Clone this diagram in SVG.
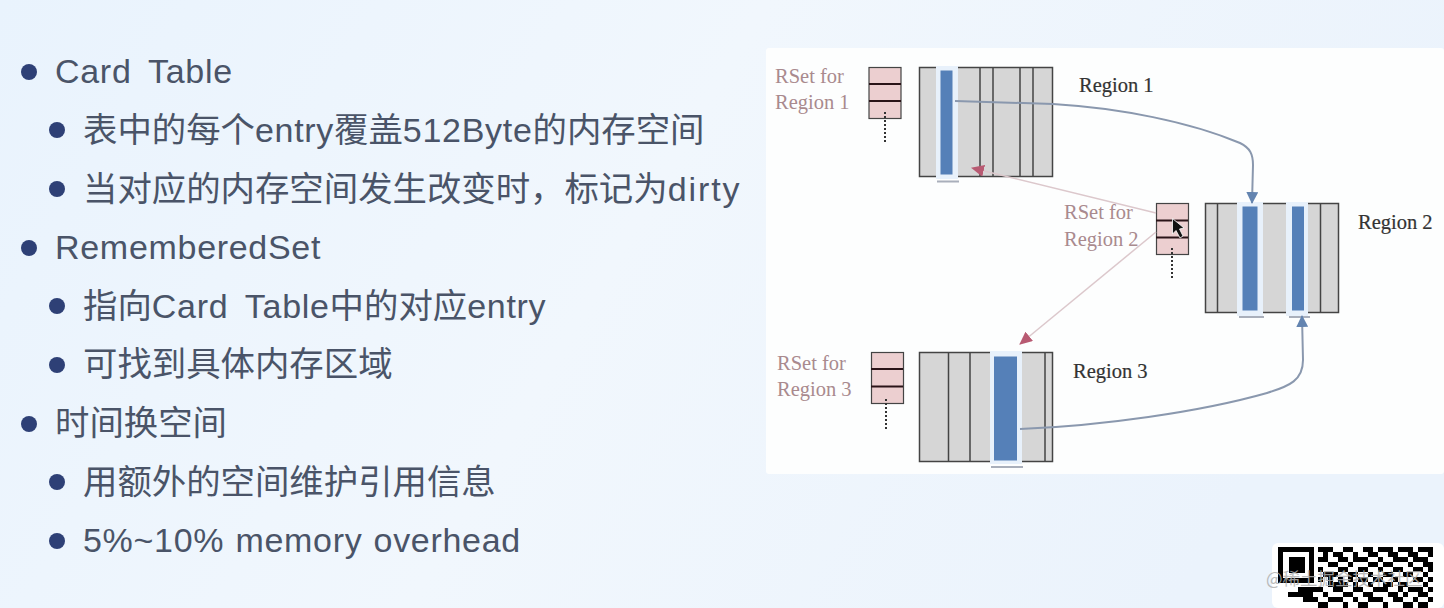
<svg xmlns="http://www.w3.org/2000/svg" width="1444" height="608" viewBox="0 0 1444 608">
<style>
.t{font-family:"Liberation Sans","Noto Sans CJK SC",sans-serif;fill:#4a5468;font-size:34.400px}
.la{letter-spacing:0.700px;word-spacing:2px;font-size:34px}
.w7{word-spacing:7px}
.lo{word-spacing:1px}
.dy{letter-spacing:1.900px}
.d{fill:#2e4076}
.s{font-family:"Liberation Serif",serif;font-size:20.500px;fill:#a98a8e}
.r{font-family:"Liberation Serif",serif;font-size:20.500px;fill:#333;stroke:#333;stroke-width:0.200px}
.g{fill:#d6d6d6;stroke:#444;stroke-width:1.500}
.v{stroke:#444;stroke-width:1.500}
.p{fill:#eccfd0;stroke:#444;stroke-width:1.200}
.b{stroke:#2a1418;stroke-width:1.800}
.o{stroke:#333;stroke-width:2;stroke-dasharray:2 2}
.h{fill:#e8f1fb}
.c{fill:#5580b8}
.u{stroke:#a9afbb;stroke-width:2}
.a{fill:none;stroke:#8a98ae;stroke-width:2}
.m{fill:none;stroke:#dcc8cc;stroke-width:1.500}
</style>
<defs>
<linearGradient id="bg" x1="0" y1="0" x2="1" y2="0.25"><stop offset="0" stop-color="#e9f3fd"/><stop offset="0.5" stop-color="#f1f7fd"/><stop offset="1" stop-color="#ebf3fc"/></linearGradient>
<marker id="ab" markerWidth="12" markerHeight="12" refX="11" refY="6" orient="auto" markerUnits="userSpaceOnUse"><path d="M0 0L12 6L0 12Z" fill="#6384b0"/></marker>
<marker id="ar" markerWidth="14" markerHeight="12" refX="12" refY="6" orient="auto" markerUnits="userSpaceOnUse"><path d="M0 0L13 6L0 12Z" fill="#b85a72"/></marker>
</defs>
<rect width="1444" height="608" fill="url(#bg)"/>
<rect x="766" y="48" width="678" height="426" rx="3" fill="#fdfefe"/>

<g id="bullets">
<circle class="d" cx="29" cy="72" r="8"/><text class="t la w7" x="55" y="83">Card Table</text>
<circle class="d" cx="57" cy="130" r="8"/><text class="t" x="83" y="142">表中的每个<tspan class="la">entry</tspan>覆盖<tspan class="la">512Byte</tspan>的内存空间</text>
<circle class="d" cx="57" cy="189" r="8"/><text class="t" x="83" y="201">当对应的内存空间发生改变时，标记为<tspan class="la dy">dirty</tspan></text>
<circle class="d" cx="29" cy="248" r="8"/><text class="t la" x="55" y="259">RememberedSet</text>
<circle class="d" cx="57" cy="306" r="8"/><text class="t" x="83" y="318">指向<tspan class="la w7">Card Table</tspan>中的对应<tspan class="la">entry</tspan></text>
<circle class="d" cx="57" cy="365" r="8"/><text class="t" x="83" y="376">可找到具体内存区域</text>
<circle class="d" cx="29" cy="424" r="8"/><text class="t" x="55" y="435">时间换空间</text>
<circle class="d" cx="57" cy="482" r="8"/><text class="t" x="83" y="494">用额外的空间维护引用信息</text>
<circle class="d" cx="57" cy="541" r="8"/><text class="t la lo" x="83" y="552">5%~10% memory overhead</text>
</g>

<g id="rset1">
<text class="s" x="775" y="83">RSet for</text><text class="s" x="775" y="109">Region 1</text>
<rect class="p" x="869" y="67.500" width="32" height="51"/>
<path class="b" d="M869 84H901M869 101H901"/><path class="o" d="M885 112V143"/>
</g>
<g id="region1">
<rect class="g" x="919.500" y="67.500" width="133" height="109"/>
<path class="v" d="M980 67V177M993 67V177M1020 67V177M1033 67V177"/>
<rect class="h" x="936" y="66" width="22" height="113"/>
<rect class="c" x="940.500" y="70.500" width="12" height="104"/>
<path class="u" d="M937 181.500H959"/>
<text class="r" x="1079" y="92">Region 1</text>
</g>

<g id="rset2">
<text class="s" x="1064" y="219">RSet for</text><text class="s" x="1064" y="246">Region 2</text>
<rect class="p" x="1156.500" y="203.500" width="32" height="51"/>
<path class="b" d="M1156 220.500H1188M1156 237.500H1188"/><path class="o" d="M1172 248V278"/>
<path d="M1172.500 218.500L1172.500 234L1176 230.500L1180 238L1183 236L1179.500 229L1184 228Z" fill="#111" stroke="#fff" stroke-width="0.800"/>
</g>
<g id="region2">
<rect class="g" x="1205.500" y="203.500" width="133" height="109"/>
<path class="v" d="M1217.500 203V313M1320.500 203V313"/>
<rect class="h" x="1237" y="202" width="26" height="114"/>
<rect class="h" x="1286" y="202" width="22" height="114"/>
<rect class="c" x="1242.500" y="206.500" width="15" height="104"/>
<rect class="c" x="1292" y="206.500" width="12" height="104"/>
<path class="u" d="M1239 317H1264M1289 317H1310"/>
<text class="r" x="1358" y="229">Region 2</text>
</g>

<g id="rset3">
<text class="s" x="777" y="370">RSet for</text><text class="s" x="777" y="396">Region 3</text>
<rect class="p" x="871.500" y="352.500" width="32" height="51"/>
<path class="b" d="M871 369H903M871 386.500H903"/><path class="o" d="M886 399V429"/>
</g>
<g id="region3">
<rect class="g" x="919.500" y="352.500" width="133" height="109"/>
<path class="v" d="M948.500 352V462M970 352V462M1045 352V462"/>
<rect class="h" x="990" y="351" width="32" height="113"/>
<rect class="c" x="994" y="356.500" width="23" height="104"/>
<path class="u" d="M991 467H1023"/>
<text class="r" x="1073" y="378">Region 3</text>
</g>

<g id="connectors">
<path class="a" marker-end="url(#ab)" d="M955 101L1053 104C1120 108 1190 122 1240 143C1250 148 1253 154 1253 165L1252 203"/>
<path class="a" marker-end="url(#ab)" d="M1020 429C1100 426 1200 412 1267 393C1290 386 1303 380 1303 360L1302 316"/>
<path class="m" marker-end="url(#ar)" d="M1156 213L972 168"/>
<path class="m" marker-end="url(#ar)" d="M1156 232L1020 344"/>
</g>

<g id="qr">
<rect x="1272" y="543" width="172" height="65" rx="6" fill="#fff"/>
<path fill="#000" fill-rule="evenodd" d="M1278 547h36v36h-36zM1283 552v26h26v-26z"/>
<rect x="1289" y="557" width="16" height="16"/>
<path fill="#000" d="M1318 547h15v5h-15zM1343 547h10v5h-10zM1363 547h10v5h-10zM1378 547h15v5h-15zM1398 547h15v5h-15zM1418 547h15v5h-15zM1323 552h5v5h-5zM1333 552h10v5h-10zM1353 552h5v5h-5zM1368 552h10v5h-10zM1388 552h10v5h-10zM1408 552h10v5h-10zM1428 552h5v5h-5zM1318 557h10v5h-10zM1338 557h10v5h-10zM1353 557h15v5h-15zM1378 557h5v5h-5zM1393 557h15v5h-15zM1413 557h15v5h-15zM1328 562h10v5h-10zM1348 562h5v5h-5zM1368 562h10v5h-10zM1383 562h10v5h-10zM1408 562h5v5h-5zM1423 562h10v5h-10zM1318 567h5v5h-5zM1338 567h10v5h-10zM1358 567h10v5h-10zM1378 567h5v5h-5zM1393 567h10v5h-10zM1413 567h10v5h-10zM1428 567h5v5h-5zM1323 572h15v5h-15zM1348 572h10v5h-10zM1368 572h5v5h-5zM1383 572h10v5h-10zM1403 572h10v5h-10zM1423 572h5v5h-5zM1318 577h5v5h-5zM1328 577h5v5h-5zM1338 577h5v5h-5zM1348 577h5v5h-5zM1358 577h10v5h-10zM1373 577h10v5h-10zM1393 577h5v5h-5zM1413 577h10v5h-10zM1428 577h5v5h-5zM1328 582h20v5h-20zM1353 582h5v5h-5zM1368 582h5v5h-5zM1383 582h10v5h-10zM1398 582h10v5h-10zM1423 582h5v5h-5zM1298 587h25v5h-25zM1333 587h10v5h-10zM1353 587h10v5h-10zM1373 587h15v5h-15zM1398 587h5v5h-5zM1408 587h15v5h-15zM1428 587h5v5h-5zM1288 592h25v5h-25zM1323 592h5v5h-5zM1343 592h10v5h-10zM1363 592h10v5h-10zM1388 592h10v5h-10zM1403 592h5v5h-5zM1418 592h10v5h-10zM1303 597h15v5h-15zM1328 597h15v5h-15zM1353 597h5v5h-5zM1368 597h15v5h-15zM1393 597h10v5h-10zM1413 597h5v5h-5zM1428 597h5v5h-5zM1318 602h10v6h-10zM1343 602h5v6h-5zM1358 602h10v6h-10zM1383 602h5v6h-5zM1403 602h10v6h-10zM1418 602h10v6h-10z"/>
<text x="1266" y="585" font-family="Noto Sans CJK SC,sans-serif" font-size="17.500" fill="#b0b0b0" opacity="0.850">@稀土掘金技术社区</text>
</g>
</svg>
